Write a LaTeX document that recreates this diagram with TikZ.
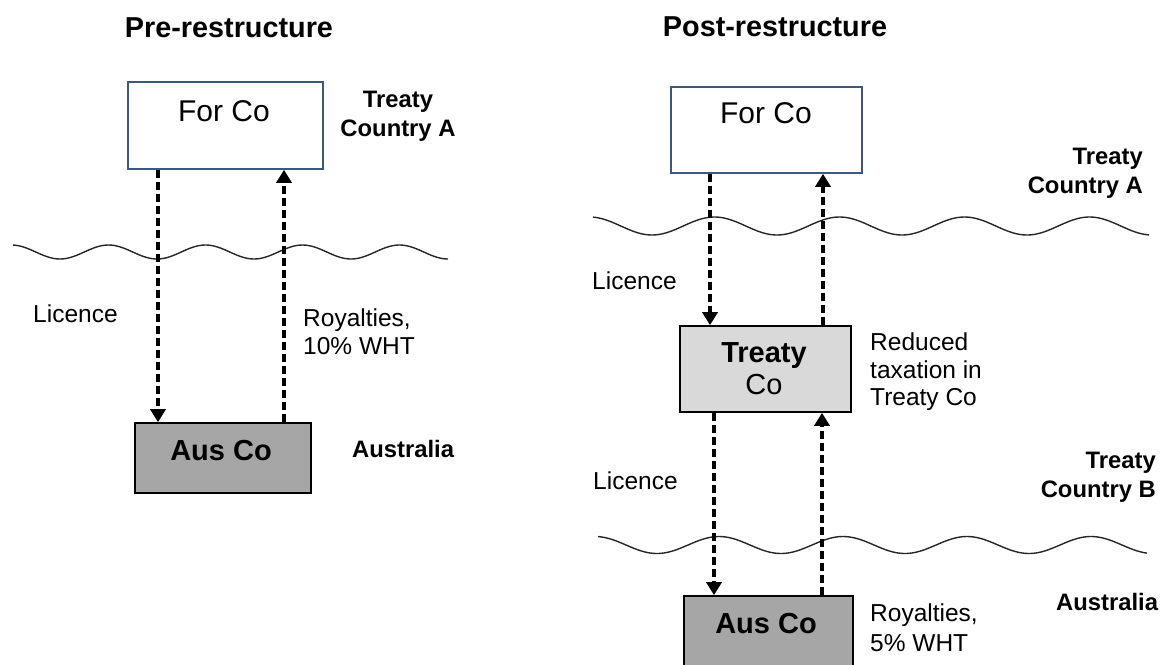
\documentclass[tikz,border=0pt]{standalone}
\usepackage{fontspec}
\setmainfont{Liberation Sans}
\usetikzlibrary{arrows.meta}
\definecolor{forblue}{RGB}{60,88,125}
\definecolor{ausgray}{RGB}{166,166,166}
\definecolor{treatygray}{RGB}{217,217,217}
\begin{document}
\begin{tikzpicture}[x=1pt,y=-1pt,
  titletxt/.style={font=\fontsize{28.8}{34}\selectfont\bfseries, anchor=base, inner sep=0},
  boxtxt/.style={font=\fontsize{30}{34}\selectfont, anchor=base, inner sep=0},
  boxtxtb/.style={font=\fontsize{29}{32}\selectfont\bfseries, anchor=base, inner sep=0},
  side/.style={font=\fontsize{24.5}{28}\selectfont, inner sep=0},
  sideb/.style={font=\fontsize{23.8}{28.5}\selectfont\bfseries, inner sep=0},
  cobox/.style={rectangle, inner sep=0, line width=1.6pt},
  forbox/.style={cobox, draw=forblue, fill=white},
  ausbox/.style={cobox, draw=black, fill=ausgray},
  treatybox/.style={cobox, draw=black, fill=treatygray},
  flow/.style={draw=black, line width=3.4pt, dash pattern=on 8pt off 4pt, -{Triangle[width=15pt,length=13pt]}},
  wave/.style={draw=black!85, line width=1.4pt}
]
\useasboundingbox (0,0) rectangle (1164,664);
\clip (0,0) rectangle (1164,664);

% ---------- Pre-restructure ----------
\node[titletxt] (t1) at (229,37) {Pre-restructure};
\node[forbox, minimum width=195pt, minimum height=87pt] (forA) at (225.5,125.5) {};
\node[boxtxt] (forAt) at (224,121) {For Co};
\node[sideb, anchor=north, align=center] (ctyA1) at (398,91) {Treaty\\Country A};
\draw[wave] plot[domain=13:448, samples=160, smooth] (\x, {252+7*cos((\x-60)/97*360)});
\node[ausbox, minimum width=176pt, minimum height=70pt] (ausA) at (223,458) {};
\node[boxtxtb] (ausAt) at (221,460) {Aus Co};
\node[side, anchor=base west] (lic1) at (33,322) {Licence};
\node[side, anchor=north west, align=left] (roy1) at (303,309) {Royalties,\\10\% WHT};
\node[sideb, anchor=base west] (aus1) at (352,457) {Australia};
\coordinate (xa) at (158,0);
\coordinate (xb) at (284,0);
\draw[flow] (forA.south -| xa) -- (ausA.north -| xa);
\draw[flow] (ausA.north -| xb) -- (forA.south -| xb);

% ---------- Post-restructure ----------
\node[titletxt] (t2) at (775,36) {Post-restructure};
\node[forbox, minimum width=191pt, minimum height=86pt] (forB) at (766.5,130) {};
\node[boxtxt] (forBt) at (766,123) {For Co};
\node[sideb, anchor=north east, align=right] (ctyA2) at (1143,148) {Treaty\\Country A};
\draw[wave] plot[domain=593:1149, samples=200, smooth] (\x, {226+9*cos((\x-652)/125*360)});
\node[side, anchor=base west] (lic2) at (592,289) {Licence};
\node[treatybox, minimum width=171pt, minimum height=86pt] (trB) at (765.5,369) {};
\node[font=\fontsize{29}{32}\selectfont, inner sep=0, anchor=north, align=center] (trBt) at (764,342) {\textbf{Treaty}\\Co};
\node[side, anchor=north west, align=left, font=\fontsize{24.5}{27.5}\selectfont] (red) at (870,333) {Reduced\\taxation in\\Treaty Co};
\node[sideb, anchor=north east, align=right] (ctyB) at (1156,452) {Treaty\\Country B};
\draw[wave] plot[domain=598:1147, samples=200, smooth] (\x, {545+8.5*cos((\x-657)/124*360)});
\node[side, anchor=base west] (lic3) at (593,489) {Licence};
\node[ausbox, minimum width=169pt, minimum height=74pt] (ausB) at (768.5,633) {};
\node[boxtxtb] (ausBt) at (766,633) {Aus Co};
\node[side, anchor=north west, align=left, font=\fontsize{24.5}{30}\selectfont] (roy2) at (870,604) {Royalties,\\5\% WHT};
\node[sideb, anchor=base west] (aus2) at (1056,610) {Australia};
\coordinate (xc) at (710,0);
\coordinate (xd) at (823,0);
\coordinate (xe) at (714,0);
\coordinate (xf) at (822,0);
\draw[flow] (forB.south -| xc) -- (trB.north -| xc);
\draw[flow] (trB.north -| xd) -- (forB.south -| xd);
\draw[flow] (trB.south -| xe) -- (ausB.north -| xe);
\draw[flow] (ausB.north -| xf) -- (trB.south -| xf);
\end{tikzpicture}
\end{document}
